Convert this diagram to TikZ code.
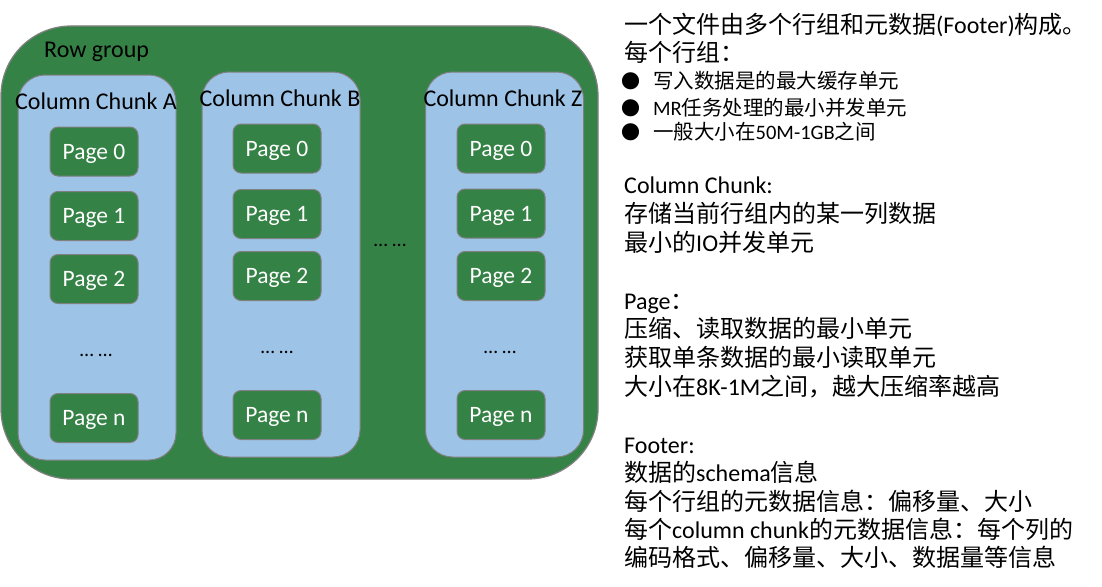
\documentclass[tikz,border=0pt]{standalone}
\usepackage{fontspec}
\setmainfont{Carlito}
\newfontfamily\cjk{Noto Sans CJK SC}
\definecolor{rggreen}{HTML}{358246}
\definecolor{chunkblue}{HTML}{9DC3E6}
\definecolor{bordergray}{HTML}{808080}
\newcommand{\zh}[1]{{\cjk #1}}
\begin{document}
\begin{tikzpicture}[x=1pt,y=-1pt,
  rowgroup/.style={draw=bordergray, line width=1.2pt, fill=rggreen, rounded corners=70pt, minimum width=597pt, minimum height=453pt, inner sep=0pt},
  chunk/.style={draw=bordergray, line width=1pt, fill=chunkblue, rounded corners=27pt, minimum width=158pt, minimum height=385pt, inner sep=0pt},
  pagebox/.style={draw=bordergray, line width=1pt, fill=rggreen, rounded corners=8pt, minimum width=88pt, minimum height=49pt, inner sep=0pt, text height=15pt, text depth=0pt, text=white, font=\fontsize{23.5}{23.5}\selectfont},
  lbl/.style={inner sep=0pt, font=\fontsize{24}{24}\selectfont},
  dots/.style={inner sep=0pt, font=\fontsize{20}{20}\selectfont},
  rtext/.style={anchor=base west, inner sep=0pt, font=\fontsize{24}{24}\selectfont},
  btext/.style={anchor=base west, inner sep=0pt, font=\fontsize{20.5}{20.5}\selectfont},
  bullet/.style={anchor=base, inner sep=0pt, font=\fontsize{19}{19}\selectfont}
]
\useasboundingbox (0,0) rectangle (1102,586);
\fill[white] (0,0) rectangle (1102,586);

% Row group
\node[rowgroup] (rg) at (299.5,252.5) {};
\node[lbl, anchor=west] (rglbl) at (44,52) {Row group};

% Chunks
\node[chunk] (ca) at (97,267.5) {};
\node[chunk] (cb) at (281,264.5) {};
\node[chunk] (cz) at (504.5,264.5) {};
\node[lbl] (cal) at (96,101) {Column Chunk A};
\node[lbl] (cbl) at (280,98) {Column Chunk B};
\node[lbl] (czl) at (503,98) {Column Chunk Z};

% Pages A
\node[pagebox] (a0) at (94,151.5) {Page 0};
\node[pagebox] (a1) at (94,216) {Page 1};
\node[pagebox] (a2) at (94,279) {Page 2};
\node[dots] (ad) at (96,355) {\ldots\ \ldots};
\node[pagebox] (an) at (94,418) {Page n};
% Pages B
\node[pagebox] (b0) at (277,148.5) {Page 0};
\node[pagebox] (b1) at (277,214) {Page 1};
\node[pagebox] (b2) at (277,276) {Page 2};
\node[dots] (bd) at (277,352) {\ldots\ \ldots};
\node[pagebox] (bn) at (277,415) {Page n};
% Pages Z
\node[pagebox] (z0) at (501,148.5) {Page 0};
\node[pagebox] (z1) at (501,213.5) {Page 1};
\node[pagebox] (z2) at (501,276) {Page 2};
\node[dots] (zd) at (500,352) {\ldots\ \ldots};
\node[pagebox] (zn) at (501,415) {Page n};
% middle dots
\node[dots] (md) at (390,245) {\ldots\ \ldots};

% Right text
\node[rtext] (t1) at (624,34) {\zh{一个文件由多个行组和元数据}(Footer)\zh{构成。}};
\node[rtext] (t2) at (624,62) {\zh{每个行组：}};
\node[bullet] (p1) at (631,88) {\zh{●}};
\node[bullet] (p2) at (631,115) {\zh{●}};
\node[bullet] (p3) at (631,139) {\zh{●}};
\node[btext] (t3) at (653,88) {\zh{写入数据是的最大缓存单元}};
\node[btext] (t4) at (653,115) {MR\zh{任务处理的最小并发单元}};
\node[btext] (t5) at (653,139) {\zh{一般大小在}50M-1GB\zh{之间}};
\node[rtext] (t6) at (624,193) {Column Chunk:};
\node[rtext] (t7) at (624,222) {\zh{存储当前行组内的某一列数据}};
\node[rtext] (t8) at (624,251) {\zh{最小的}IO\zh{并发单元}};
\node[rtext] (t9) at (624,309) {Page\zh{：}};
\node[rtext] (t10) at (624,337) {\zh{压缩、读取数据的最小单元}};
\node[rtext] (t11) at (624,366) {\zh{获取单条数据的最小读取单元}};
\node[rtext] (t12) at (624,395) {\zh{大小在}8K-1M\zh{之间，越大压缩率越高}};
\node[rtext] (t13) at (624,453) {Footer:};
\node[rtext] (t14) at (624,481) {\zh{数据的}schema\zh{信息}};
\node[rtext] (t15) at (624,510) {\zh{每个行组的元数据信息：偏移量、大小}};
\node[rtext] (t16) at (624,538) {\zh{每个}column chunk\zh{的元数据信息：每个列的}};
\node[rtext] (t17) at (624,566) {\zh{编码格式、偏移量、大小、数据量等信息}};
\end{tikzpicture}
\end{document}
